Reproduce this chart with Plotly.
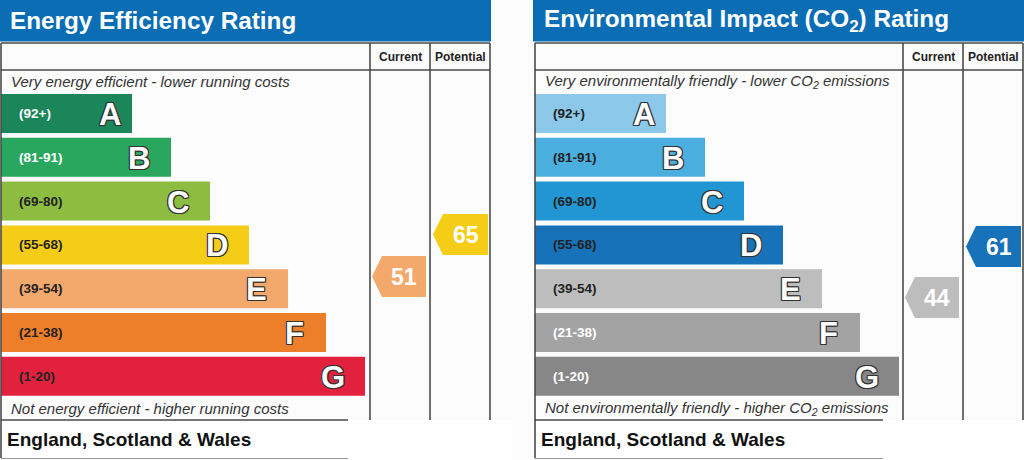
"""
epc_ratings.py

Energy Efficiency and Environmental Impact (CO2) rating charts,
EPC style: seven banded bars plus current / potential arrows.
"""

import plotly.graph_objects as go

BANDS   = ["A", "B", "C", "D", "E", "F", "G"]
RANGES  = ["(92+)", "(81-91)", "(69-80)", "(55-68)", "(39-54)", "(21-38)", "(1-20)"]
BAND_LO = [92, 81, 69, 55, 39, 21, 1]
BAR_LEN = [131, 170, 209, 248, 287, 325, 364]

EE_COLORS  = ["#1a8659", "#2aa75f", "#8cbd41", "#f5cd17", "#f3a96c", "#ed7f2b", "#e2213e"]
EE_LABEL_C = ["white", "white", "#222", "#222", "#222", "#222", "#222"]
CO2_COLORS  = ["#8cc8ea", "#4aaedf", "#2196d2", "#1772b9", "#bdbdbd", "#a3a3a3", "#878787"]
CO2_LABEL_C = ["#222", "#222", "#222", "#222", "#222", "white", "white"]

EE_CURRENT,  EE_POTENTIAL  = 51, 65
CO2_CURRENT, CO2_POTENTIAL = 44, 61

FONT    = "Liberation Sans, Arial, sans-serif"
BLUE    = "#0b6db4"
LINE    = "#4a4a4a"
OUTLINE = ("-1px -1px 0 #333, 1px -1px 0 #333, -1px 1px 0 #333, 1px 1px 0 #333, "
           "0 1px 0 #333, 0 -1px 0 #333, 1px 0 0 #333, -1px 0 0 #333")

# page is laid out in pixels: x 0..1024, y 0..460 (top down)
# rating axis (y2) overlays it: 3 px per rating point
W, H     = 1024, 460
BAR_TOP  = 94
BAR_STEP = 43.8
BAR_H    = 39
R_ZERO   = 429.5   # pixel row of rating 0
PX_PER_R = 3.0


def band_of(rating):
    for i, lo in enumerate(BAND_LO):
        if rating >= lo:
            return i
    return len(BAND_LO) - 1


fig = go.Figure()
shapes, notes = [], []


def panel(x0, x1, title, top_txt, bot_txt, colors, label_c, current, potential, foot_end):
    c1, c2 = x1 - 120, x1 - 60   # Current / Potential column lines

    # title bar
    shapes.append(dict(type="rect", x0=x0 - 2, x1=x1 + 1, y0=0, y1=41.5,
                       fillcolor=BLUE, line_width=0, layer="below"))
    notes.append(dict(x=x0 + 7, y=20.5, text=title, xanchor="left", yanchor="middle",
                      showarrow=False, font=dict(family=FONT, size=24.3, color="white", weight="bold")))

    # table frame
    shapes.append(dict(type="line", x0=x0, x1=x1, y0=43, y1=43, line=dict(color=LINE, width=1.6)))
    shapes.append(dict(type="line", x0=x0, x1=x1, y0=70, y1=70, line=dict(color=LINE, width=1.6)))
    shapes.append(dict(type="line", x0=x0, x1=x0, y0=43, y1=458, line=dict(color=LINE, width=1.6)))
    shapes.append(dict(type="line", x0=x1, x1=x1, y0=43, y1=420, line=dict(color=LINE, width=1.6)))
    for cx in (c1, c2):
        shapes.append(dict(type="line", x0=cx, x1=cx, y0=43, y1=420, line=dict(color=LINE, width=1.6)))
    shapes.append(dict(type="line", x0=x0, x1=foot_end, y0=420, y1=420, line=dict(color=LINE, width=1.6)))
    shapes.append(dict(type="line", x0=x0, x1=foot_end, y0=458.5, y1=458.5, line=dict(color="#9a9a9a", width=1.2)))

    notes.append(dict(x=(c1 + c2) / 2, y=57, text="Current", showarrow=False,
                      font=dict(family=FONT, size=12, color="#222", weight="bold")))
    notes.append(dict(x=(c2 + x1) / 2, y=57, text="Potential", showarrow=False,
                      font=dict(family=FONT, size=12, color="#222", weight="bold")))
    notes.append(dict(x=x0 + 8, y=81, text=top_txt, xanchor="left", showarrow=False,
                      font=dict(family=FONT, size=15, color="#333", style="italic")))
    notes.append(dict(x=x0 + 8, y=408.5, text=bot_txt, xanchor="left", showarrow=False,
                      font=dict(family=FONT, size=15, color="#333", style="italic")))
    notes.append(dict(x=x0 + 4, y=439, text="England, Scotland & Wales", xanchor="left", showarrow=False,
                      font=dict(family=FONT, size=19, color="#111", weight="bold")))

    # band bars
    centers = [BAR_TOP + BAR_H / 2 + i * BAR_STEP for i in range(len(BANDS))]
    fig.add_trace(go.Bar(
        orientation="h", y=centers, x=BAR_LEN, base=x0, width=BAR_H,
        marker=dict(color=colors, line_width=0), hoverinfo="skip", showlegend=False,
    ))
    for i, b in enumerate(BANDS):
        notes.append(dict(x=x0 + 16, y=centers[i], text=RANGES[i], xanchor="left", showarrow=False,
                          font=dict(family=FONT, size=13.5, color=label_c[i], weight="bold")))
        inset = 22 if b == "A" else 32
        notes.append(dict(x=x0 + BAR_LEN[i] - inset, y=centers[i] + 1, text=b, showarrow=False,
                          font=dict(family=FONT, size=31, color="white", weight="bold", shadow=OUTLINE)))

    # current / potential arrows, placed on the rating axis
    half = 41 / PX_PER_R / 2
    for val, xl, xr in ((current, c1 + 2, c2 - 4), (potential, c2 + 3, x1 - 2)):
        col = colors[band_of(val)]
        fig.add_trace(go.Scatter(
            x=[xl, xl + 10, xr, xr, xl + 10, xl],
            y=[val, val + half, val + half, val - half, val - half, val],
            yaxis="y2", mode="lines", fill="toself", fillcolor=col,
            line=dict(width=0, color=col), hoverinfo="skip", showlegend=False,
        ))
        notes.append(dict(x=(xl + 10 + xr) / 2, y=val, yref="y2", text=str(val), showarrow=False,
                          font=dict(family=FONT, size=23, color="white", weight="bold")))


# white patches at the foot of each panel
shapes.append(dict(type="rect", x0=0, x1=348, y0=420, y1=458, fillcolor="white", line_width=0, layer="below"))
shapes.append(dict(type="rect", x0=348, x1=512, y0=420, y1=460, fillcolor="white", line_width=0, layer="below"))
shapes.append(dict(type="rect", x0=533, x1=883, y0=420, y1=458, fillcolor="white", line_width=0, layer="below"))
shapes.append(dict(type="rect", x0=883, x1=1024, y0=420, y1=460, fillcolor="white", line_width=0, layer="below"))

panel(1, 490, "Energy Efficiency Rating",
      "Very energy efficient - lower running costs",
      "Not energy efficient - higher running costs",
      EE_COLORS, EE_LABEL_C, EE_CURRENT, EE_POTENTIAL, 348)

panel(535, 1023, "Environmental Impact (CO<sub>2</sub>) Rating",
      "Very environmentally friendly - lower CO<sub>2</sub> emissions",
      "Not environmentally friendly - higher CO<sub>2</sub> emissions",
      CO2_COLORS, CO2_LABEL_C, CO2_CURRENT, CO2_POTENTIAL, 883)

fig.update_layout(
    width=W, height=H,
    margin=dict(l=0, r=0, t=0, b=0),
    paper_bgcolor="#fcfcfc", plot_bgcolor="#fcfcfc",
    xaxis=dict(range=[0, W], visible=False, fixedrange=True),
    yaxis=dict(range=[H, 0], visible=False, fixedrange=True),
    yaxis2=dict(range=[(R_ZERO - H) / PX_PER_R, R_ZERO / PX_PER_R], overlaying="y",
                visible=False, fixedrange=True),
    barmode="overlay",
    shapes=shapes,
    annotations=notes,
    showlegend=False,
)
fig.write_html("out.html", config={"displayModeBar": False},
               post_script="document.body.style.margin='0';document.body.style.overflow='hidden';")
